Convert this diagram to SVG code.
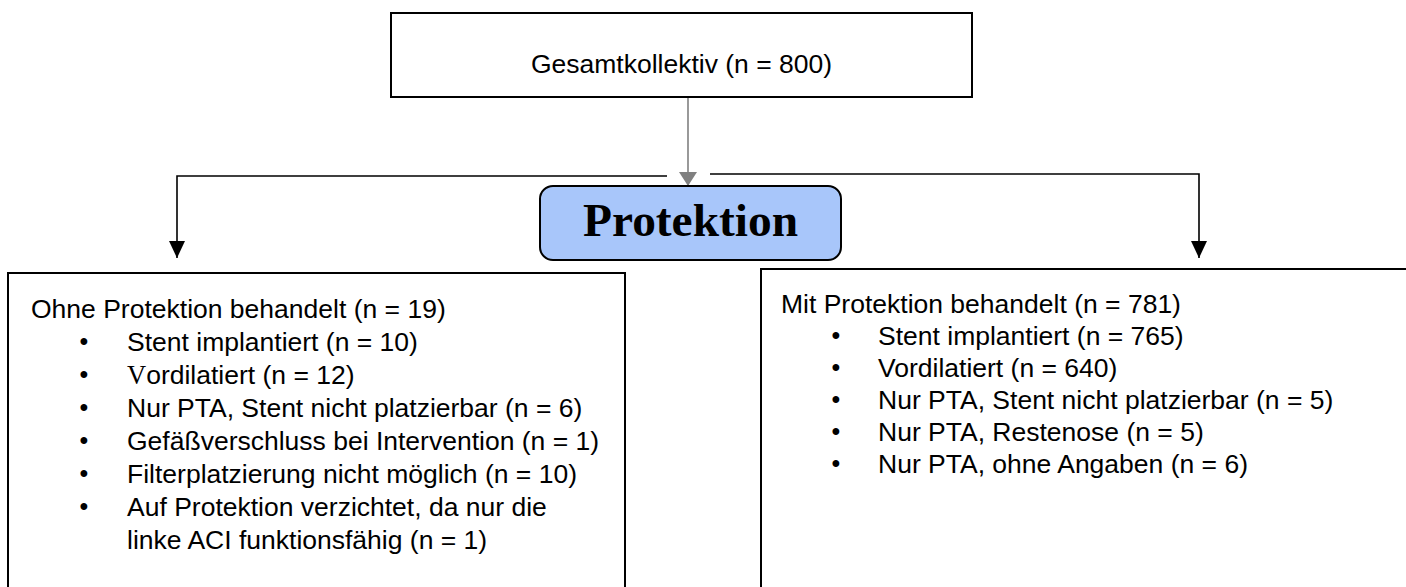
<svg xmlns="http://www.w3.org/2000/svg" width="1406" height="587" viewBox="0 0 1406 587">
<defs>
<marker id="ah" markerWidth="16" markerHeight="18" refX="8" refY="17" markerUnits="userSpaceOnUse" viewBox="0 0 16 18">
<path d="M0,0 L16,0 L8,17 Z" fill="#000"/>
</marker>
<marker id="ahg" markerWidth="18" markerHeight="15" refX="9" refY="14" markerUnits="userSpaceOnUse" viewBox="0 0 18 15">
<path d="M0,0 L18,0 L9,14 Z" fill="#808080"/>
</marker>
<style>
.box{fill:#fff;stroke:#000;stroke-width:2}
.t{font-family:"Liberation Sans",Arial,sans-serif;font-size:26.5px;fill:#000}
.b{font-family:"Liberation Sans",Arial,sans-serif;font-size:25px;fill:#000;text-anchor:middle}
.ln{fill:none;stroke:#000;stroke-width:1.6}
</style>
</defs>
<rect width="1406" height="587" fill="#fff"/>
<g id="connectors">
<line x1="688" y1="97" x2="688" y2="186" stroke="#808080" stroke-width="1.6" marker-end="url(#ahg)"/>
<polyline class="ln" points="667,176 177,176 177,258" marker-end="url(#ah)"/>
<polyline class="ln" points="710,174 1199,174 1199,258" marker-end="url(#ah)"/>
</g>
<g id="gesamt">
<rect class="box" x="391" y="13" width="581" height="84"/>
<text class="t" x="681.5" y="73" text-anchor="middle">Gesamtkollektiv (n = 800)</text>
</g>
<g id="protektion">
<rect x="540" y="186" width="301" height="74" rx="13" fill="#a8c6fa" stroke="#000" stroke-width="2"/>
<text x="690.5" y="236" text-anchor="middle" font-family="Liberation Serif,'Times New Roman',serif" font-weight="bold" font-size="46" textLength="215" lengthAdjust="spacingAndGlyphs">Protektion</text>
</g>
<g id="ohne">
<rect class="box" x="8" y="273" width="617" height="330"/>
<text class="t" x="31" y="318">Ohne Protektion behandelt (n = 19)</text>
<text class="b" x="84" y="350">•</text><text class="t" x="127" y="351">Stent implantiert (n = 10)</text>
<text class="b" x="84" y="383">•</text><text class="t" x="127" y="384"><tspan font-family="Liberation Serif,serif">V</tspan>ordilatiert (n = 12)</text>
<text class="b" x="84" y="416">•</text><text class="t" x="127" y="417">Nur PTA, Stent nicht platzierbar (n = 6)</text>
<text class="b" x="84" y="449">•</text><text class="t" x="127" y="450">Gefäßverschluss bei Intervention (n = 1)</text>
<text class="b" x="84" y="482">•</text><text class="t" x="127" y="483">Filterplatzierung nicht möglich (n = 10)</text>
<text class="b" x="84" y="515">•</text><text class="t" x="127" y="516">Auf Protektion verzichtet, da nur die</text>
<text class="t" x="127" y="549">linke ACI funktionsfähig (n = 1)</text>
</g>
<g id="mit">
<rect class="box" x="761" y="269" width="660" height="334"/>
<text class="t" x="781" y="313">Mit Protektion behandelt (n = 781)</text>
<text class="b" x="836" y="344">•</text><text class="t" x="878" y="345">Stent implantiert (n = 765)</text>
<text class="b" x="836" y="376">•</text><text class="t" x="878" y="377">Vordilatiert (n = 640)</text>
<text class="b" x="836" y="408">•</text><text class="t" x="878" y="409">Nur PTA, Stent nicht platzierbar (n = 5)</text>
<text class="b" x="836" y="440">•</text><text class="t" x="878" y="441">Nur PTA, Restenose (n = 5)</text>
<text class="b" x="836" y="472">•</text><text class="t" x="878" y="473">Nur PTA, ohne Angaben (n = 6)</text>
</g>
</svg>
